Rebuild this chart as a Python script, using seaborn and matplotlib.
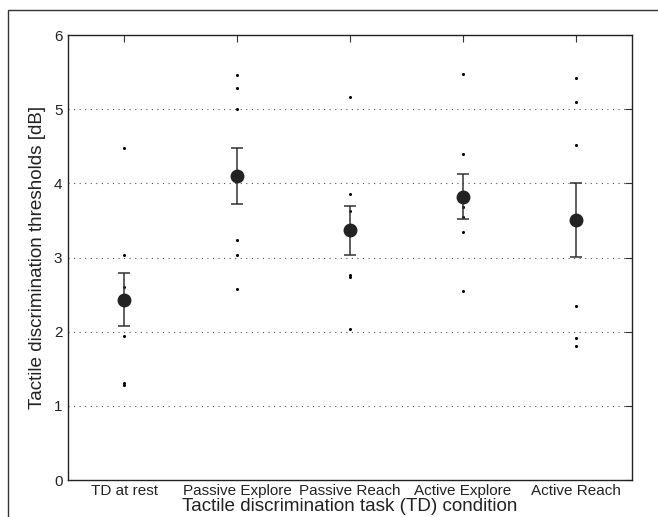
import numpy as np
import pandas as pd
import matplotlib
matplotlib.use("Agg")
import matplotlib.pyplot as plt
import seaborn as sns
from matplotlib.patches import Rectangle

conditions = ["TD at rest", "Passive Explore", "Passive Reach", "Active Explore", "Active Reach"]
td_rest = [4.47, 3.03, 2.60, 1.94, 1.31, 1.28]
passive_explore = [5.46, 5.28, 5.00, 3.24, 3.04, 2.58]
passive_reach = [5.17, 3.86, 3.63, 2.76, 2.74, 2.04]
active_explore = [5.48, 4.39, 3.68, 3.55, 3.34, 2.55]
active_reach = [5.42, 5.10, 4.52, 2.34, 1.91, 1.81]
means = [2.43, 4.10, 3.37, 3.82, 3.51]
err_low = [0.36, 0.38, 0.33, 0.30, 0.50]
err_high = [0.36, 0.38, 0.33, 0.30, 0.50]
ytick_values = [0, 1, 2, 3, 4, 5, 6]

rows = []
for cond, vals in zip(conditions, [td_rest, passive_explore, passive_reach, active_explore, active_reach]):
    for v in vals:
        rows.append({"condition": cond, "threshold": v})
df = pd.DataFrame(rows)

sns.set_theme(style="white")
plt.rcParams["font.family"] = ["Liberation Sans", "DejaVu Sans"]

fig = plt.figure(figsize=(6.58, 5.17), dpi=100)
ax = fig.add_axes([68 / 658, 1 - 480 / 517, 564 / 658, 445 / 517])

ax.set_ylim(0, 6)
ax.set_xlim(-0.5, 4.5)

for y in [1, 2, 3, 4, 5]:
    ax.axhline(y, color="#555555", lw=0.8, ls=(0, (1, 4)), zorder=0)

sns.stripplot(data=df, x="condition", y="threshold", order=conditions, jitter=False,
              color="black", size=2.2, ax=ax, zorder=3)

xpos = np.arange(len(conditions))
ax.errorbar(xpos, means, yerr=[err_low, err_high], fmt="o", color="#222222",
            ecolor="#333333", elinewidth=1.1, capsize=4.5, capthick=1.1,
            markersize=9, zorder=4)

ax.set_yticks(ytick_values)
ax.set_yticklabels([str(v) for v in ytick_values])
ax.set_xticks(xpos)
ax.set_xticklabels(conditions)

ax.tick_params(axis="both", direction="in", length=5, width=0.8, color="#333333",
               top=True, right=True, labelsize=11, pad=4, labelcolor="#222222")
ax.tick_params(axis="x", pad=3)
for s in ax.spines.values():
    s.set_color("#222222")
    s.set_linewidth(1.0)

ax.set_xlabel("Tactile discrimination task (TD) condition", fontsize=13.6, labelpad=0, color="#222222")
ax.set_ylabel("Tactile discrimination thresholds [dB]", fontsize=13.6, labelpad=6, color="#222222")

# outer frame
fig.patches.append(Rectangle((8 / 658, -0.1), 1.2, 1 - 10 / 517 + 0.1, transform=fig.transFigure,
                             fill=False, edgecolor="#333333", lw=1.0, zorder=-1))

fig.savefig("out.png", dpi=100)
